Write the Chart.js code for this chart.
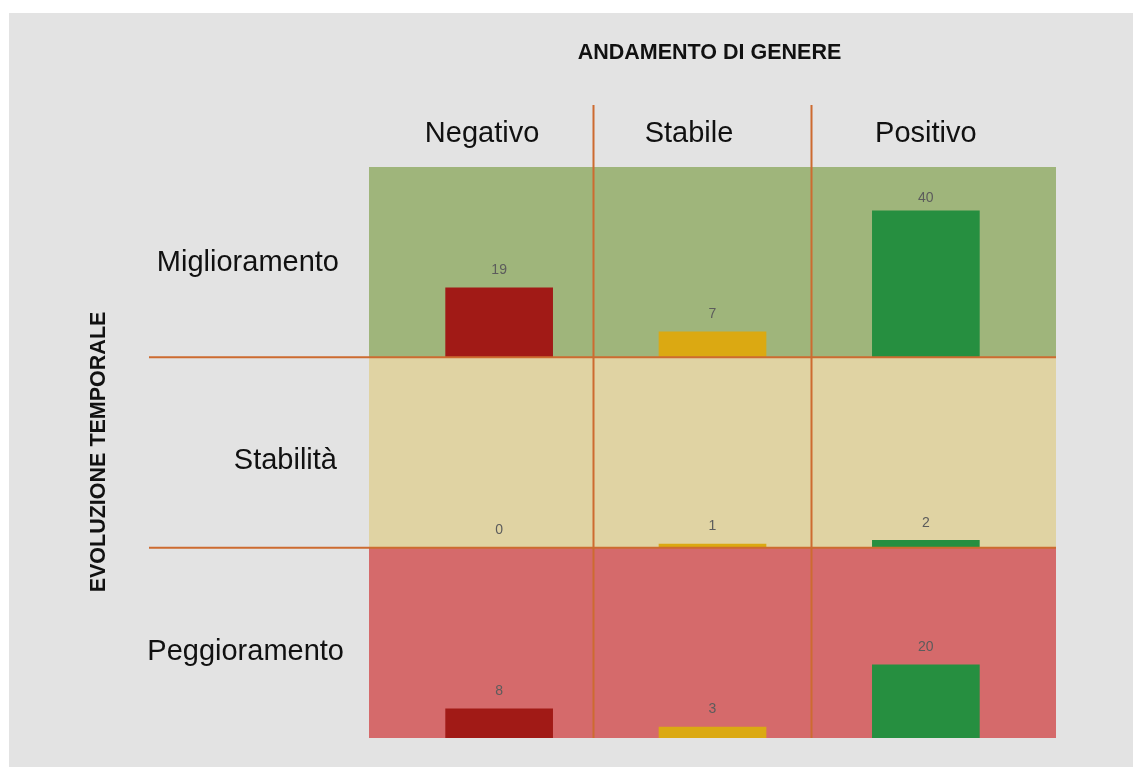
<!DOCTYPE html>
<html>
<head>
<meta charset="utf-8">
<script src="https://cdn.jsdelivr.net/npm/chart.js@4"></script>
<style>
    html, body { margin: 0; padding: 0; background: #ffffff; overflow: hidden; }
    #matrix { position: absolute; left: 9px; top: 13px; background: #e3e3e3; }
</style>
</head>
<body>
<canvas id="matrix" width="1124" height="754"></canvas>
<script>
// Row / column categories
const rowLabels = ['Miglioramento', 'Stabilità', 'Peggioramento'];
const colLabels = ['Negativo', 'Stabile', 'Positivo'];

// Counts per column, listed by row (top to bottom)
const negativoCounts = [19, 0, 8];
const stabileCounts = [7, 1, 3];
const positivoCounts = [40, 2, 20];

// Value range of each row panel
const rowMax = 52;

// Column boundaries on the x scale
const colDividers = [1.44, 2.46];

const rowColors = ['#9fb57b', '#e0d3a3', '#d56a6b'];
const barColors = ['#a11a16', '#dba912', '#268f40'];
const lineColor = '#cd6b30';
const FONT = "'Liberation Sans', Arial, sans-serif";

// label placement tweaks (x scale units for headers, px for row names)
const headerAt = [0.92, 1.89, 3.0];
const rowLabelRight = [330, 328, 335];
const rowLabelDrop = [9, 16.5, 17.3];

// Build floating bars: each row sits on its own band of the y scale
function rowBase(rowIdx) {
    return (rowLabels.length - 1 - rowIdx) * rowMax;
}

function buildPoints(colIdx, counts) {
    return counts.map((v, r) => ({ x: colIdx + 1, y: [rowBase(r), rowBase(r) + v], value: v, row: r }));
}

const allCounts = [negativoCounts, stabileCounts, positivoCounts];

const datasets = colLabels.map((label, c) => ({
    label: label,
    data: buildPoints(c, allCounts[c]),
    backgroundColor: barColors[c],
    borderWidth: 0,
    barThickness: 107,
    grouped: false
}));

// Row bands behind the bars
const bandsPlugin = {
    id: 'bands',
    beforeDatasetsDraw(chart) {
        const { ctx, chartArea, scales: { y } } = chart;
        ctx.save();
        rowLabels.forEach((name, r) => {
            const top = y.getPixelForValue(rowBase(r) + rowMax);
            const bottom = y.getPixelForValue(rowBase(r));
            ctx.fillStyle = rowColors[r];
            ctx.fillRect(chartArea.left, top, chartArea.right - chartArea.left, bottom - top);
        });
        ctx.restore();
    }
};

// Grid lines, value labels, headers and titles
const overlayPlugin = {
    id: 'overlay',
    afterDatasetsDraw(chart) {
        const { ctx, chartArea, scales: { x, y } } = chart;
        ctx.save();

        // value labels above each bar
        ctx.fillStyle = '#5c5c5c';
        ctx.font = '14px ' + FONT;
        ctx.textAlign = 'center';
        ctx.textBaseline = 'middle';
        chart.data.datasets.forEach((ds, di) => {
            const meta = chart.getDatasetMeta(di);
            meta.data.forEach((bar, i) => {
                const pt = ds.data[i];
                const rowTop = y.getPixelForValue(rowBase(pt.row) + rowMax);
                const ly = Math.max(bar.y - 17.5, rowTop + 31);
                ctx.fillText(String(pt.value), bar.x, ly);
            });
        });

        // separators
        ctx.strokeStyle = lineColor;
        ctx.lineWidth = 2;
        colDividers.forEach(v => {
            const px = Math.round(x.getPixelForValue(v)) + 0.5;
            ctx.beginPath();
            ctx.moveTo(px, 92);
            ctx.lineTo(px, chartArea.bottom);
            ctx.stroke();
        });
        for (let r = 1; r < rowLabels.length; r++) {
            const py = y.getPixelForValue(r * rowMax);
            ctx.beginPath();
            ctx.moveTo(140, py);
            ctx.lineTo(chartArea.right, py);
            ctx.stroke();
        }

        // column headers
        ctx.fillStyle = '#111111';
        ctx.font = '29px ' + FONT;
        ctx.textAlign = 'center';
        ctx.textBaseline = 'alphabetic';
        colLabels.forEach((name, c) => {
            ctx.fillText(name, x.getPixelForValue(headerAt[c]), 129);
        });

        // row labels
        ctx.textAlign = 'right';
        rowLabels.forEach((name, r) => {
            const cy = y.getPixelForValue(rowBase(r) + rowMax / 2);
            ctx.fillText(name, rowLabelRight[r], cy + rowLabelDrop[r]);
        });

        // titles
        ctx.font = 'bold 21.5px ' + FONT;
        ctx.textAlign = 'center';
        ctx.fillText('ANDAMENTO DI GENERE', 700.5, 45.7);

        ctx.translate(96.2, 439);
        ctx.rotate(-Math.PI / 2);
        ctx.fillText('EVOLUZIONE TEMPORALE', 0, 0);

        ctx.restore();
    }
};

const ctx = document.getElementById('matrix').getContext('2d');
new Chart(ctx, {
    type: 'bar',
    data: { datasets: datasets },
    options: {
        responsive: false,
        animation: false,
        layout: {
            padding: { left: 360, right: 77, top: 154, bottom: 29 }
        },
        plugins: {
            legend: { display: false },
            tooltip: { enabled: false }
        },
        scales: {
            x: { type: 'linear', min: 0.39, max: 3.61, offset: false, display: false },
            y: { type: 'linear', min: 0, max: rowMax * rowLabels.length, display: false }
        }
    },
    plugins: [bandsPlugin, overlayPlugin]
});
</script>
</body>
</html>
